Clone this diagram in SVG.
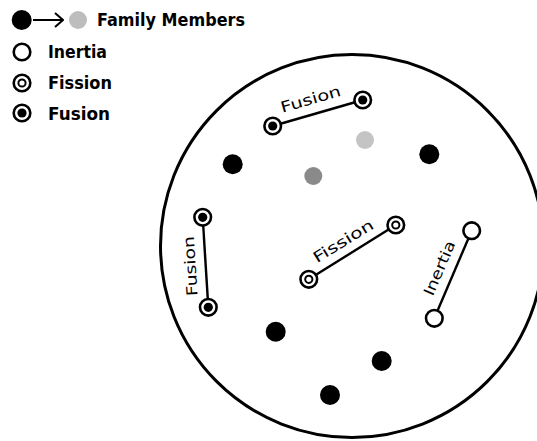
<svg xmlns="http://www.w3.org/2000/svg" xmlns:xlink="http://www.w3.org/1999/xlink" width="537" height="441" viewBox="0 0 537 441">
<style>
.bg{fill:#fff}
.ring{fill:#fff;stroke:#000;stroke-width:2.6}
.inner{fill:none;stroke:#000;stroke-width:2}
.core{fill:#000}
.member{fill:#000}
.conn{stroke:#000;stroke-width:2.4;fill:none}
.leg{font-family:"DejaVu Sans","Liberation Sans",sans-serif;font-size:17px;font-weight:bold;fill:#000}
.lbl{font-family:"DejaVu Sans","Liberation Sans",sans-serif;font-size:15px;fill:#000}
</style>
<defs>
<g id="fusionSym"><circle class="ring" r="8.3"/><circle class="core" r="4.6"/></g>
<g id="fissionSym"><circle class="ring" r="8.3"/><circle class="inner" r="3.6"/></g>
<g id="inertiaSym"><circle class="ring" r="8.3"/></g>
<marker id="chev" viewBox="0 0 10 16" refX="9" refY="8" markerWidth="10" markerHeight="16" markerUnits="userSpaceOnUse" orient="auto"><path d="M1,1 L9,8 L1,15" fill="none" stroke="#000" stroke-width="2"/></marker>
</defs>
<rect class="bg" width="537" height="441"/>

<g id="legend">
<g id="legend-family">
<circle class="member" cx="21.7" cy="20" r="10"/>
<line x1="33" y1="20" x2="63" y2="20" stroke="#000" stroke-width="2" marker-end="url(#chev)"/>
<circle cx="78" cy="20" r="9" fill="#bdbdbd"/>
<text class="leg" x="97" y="26" textLength="148" lengthAdjust="spacingAndGlyphs">Family Members</text>
</g>
<g id="legend-inertia"><use xlink:href="#inertiaSym" x="22" y="52"/><text class="leg" x="48" y="57.5" textLength="59" lengthAdjust="spacingAndGlyphs">Inertia</text></g>
<g id="legend-fission"><use xlink:href="#fissionSym" x="22" y="83"/><text class="leg" x="48" y="88.5" textLength="64" lengthAdjust="spacingAndGlyphs">Fission</text></g>
<g id="legend-fusion"><use xlink:href="#fusionSym" x="22" y="113"/><text class="leg" x="48" y="119.5" textLength="62" lengthAdjust="spacingAndGlyphs">Fusion</text></g>
</g>

<g id="family-circle"><circle cx="352" cy="246" r="191.5" fill="none" stroke="#000" stroke-width="3"/></g>

<g id="connectors">
<line class="conn" x1="272.7" y1="126" x2="362.7" y2="100"/>
<line class="conn" x1="202.7" y1="217.3" x2="208.3" y2="307.3"/>
<line class="conn" x1="308.8" y1="279.3" x2="395.8" y2="225"/>
<line class="conn" x1="434.3" y1="318.3" x2="471.7" y2="230.7"/>
<text class="lbl" transform="translate(317.7,113) rotate(-16.1)" x="-3" y="-10" text-anchor="middle" textLength="62" lengthAdjust="spacingAndGlyphs">Fusion</text>
<text class="lbl" transform="translate(205.5,262.3) rotate(-93.6)" x="-3" y="-10" text-anchor="middle" textLength="60" lengthAdjust="spacingAndGlyphs">Fusion</text>
<text class="lbl" transform="translate(352.3,252.2) rotate(-31.5)" x="-2" y="-9" text-anchor="middle" textLength="68" lengthAdjust="spacingAndGlyphs">Fission</text>
<text class="lbl" transform="translate(453,275) rotate(-66.6)" x="1" y="-10" text-anchor="middle" textLength="58" lengthAdjust="spacingAndGlyphs">Inertia</text>
</g>

<g id="fusion-top-a"><use xlink:href="#fusionSym" x="272.7" y="126"/></g>
<g id="fusion-top-b"><use xlink:href="#fusionSym" x="362.7" y="100"/></g>
<g id="fusion-left-a"><use xlink:href="#fusionSym" x="202.7" y="217.3"/></g>
<g id="fusion-left-b"><use xlink:href="#fusionSym" x="208.3" y="307.3"/></g>
<g id="fission-a"><use xlink:href="#fissionSym" x="308.8" y="279.3"/></g>
<g id="fission-b"><use xlink:href="#fissionSym" x="395.8" y="225"/></g>
<g id="inertia-a"><use xlink:href="#inertiaSym" x="434.3" y="318.3"/></g>
<g id="inertia-b"><use xlink:href="#inertiaSym" x="471.7" y="230.7"/></g>

<g id="member-1"><circle class="member" cx="232.7" cy="164.3" r="10"/></g>
<g id="member-2"><circle class="member" cx="429.3" cy="154.3" r="10"/></g>
<g id="member-3"><circle class="member" cx="275.7" cy="331.7" r="10"/></g>
<g id="member-4"><circle class="member" cx="381.7" cy="361" r="10"/></g>
<g id="member-5"><circle class="member" cx="330" cy="395" r="10"/></g>
<g id="member-grey-1"><circle cx="365" cy="140" r="9" fill="#c4c4c4"/></g>
<g id="member-grey-2"><circle cx="313.3" cy="176" r="9" fill="#8a8a8a"/></g>
</svg>
